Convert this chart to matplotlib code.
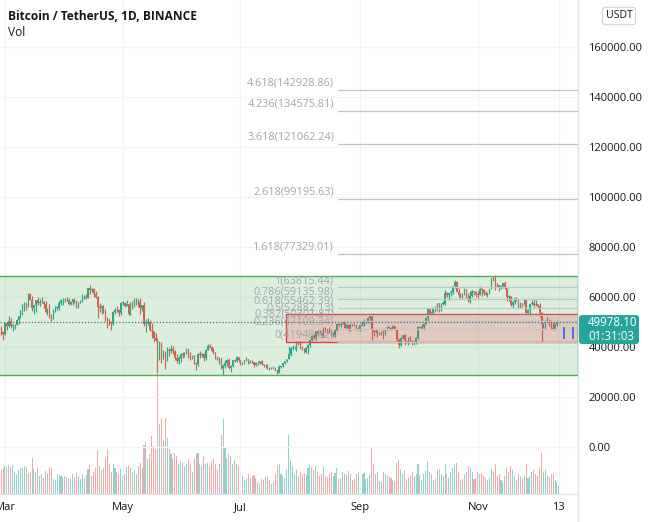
import numpy as np
import matplotlib
matplotlib.use('Agg')
import matplotlib.pyplot as plt
from matplotlib.patches import Rectangle, FancyBboxPatch
from matplotlib.lines import Line2D
import matplotlib.transforms as mtransforms

plt.rcParams['font.family'] = ['Open Sans', 'DejaVu Sans']

# day index: 0 = 1 Mar 2021, first candle is 26 Feb
first_day = -3
first_open_k = 47.0

# daily closes / highs / lows in thousands of USDT (26 Feb .. 13 Dec 2021)
close_k = [
    46.3, 46.2, 45.1,
    49.6, 48.4, 50.3, 48.4, 48.8, 48.9, 51.0, 52.4, 54.9, 55.9, 57.8, 57.2, 61.2, 59.0, 55.6, 56.9,
    58.9, 57.6, 58.0, 58.1, 57.4, 54.1, 54.3, 52.3, 51.3, 55.0, 55.8, 55.8, 57.6, 58.8, 58.8,
    58.7, 59.0, 57.1, 58.2, 59.1, 58.0, 56.0, 58.1, 58.1, 59.8, 60.0, 59.8, 63.6, 63.0, 63.2,
    61.4, 60.0, 56.2, 55.7, 56.5, 53.8, 51.7, 51.2, 50.1, 49.1, 54.0, 55.0, 54.8, 53.6, 57.7,
    57.8, 56.6, 57.2, 53.2, 57.4, 56.4, 57.3, 58.9, 58.2, 55.8, 56.7, 49.2, 49.7, 49.9, 46.8, 46.4,
    43.5, 42.9, 37.0, 40.6, 37.3, 37.5, 34.8, 38.8, 38.3, 39.2, 38.5, 35.7, 34.6, 35.7, 37.3,
    36.7, 37.6, 39.2, 36.9, 35.5, 35.8, 33.6, 33.4, 37.4, 36.7, 37.3, 35.6, 39.0, 40.5, 40.1,
    38.4, 38.1, 35.8, 35.5, 35.6, 31.6, 32.5, 33.7, 34.7, 31.6, 32.3, 34.7, 34.5, 35.9, 35.0,
    33.5, 33.8, 34.7, 35.3, 33.7, 34.2, 33.9, 32.9, 33.8, 33.5, 34.3, 33.1, 32.7, 32.8, 31.8, 31.4,
    31.5, 31.8, 30.8, 29.8, 32.1, 32.3, 33.6, 34.3, 35.4, 37.3, 39.5, 40.0, 40.0, 42.2, 41.5,
    39.8, 39.1, 38.2, 39.7, 40.9, 42.8, 44.6, 43.8, 46.3, 45.6, 45.5, 44.4, 47.8, 47.1, 47.0, 45.9,
    44.7, 44.7, 46.8, 49.3, 48.9, 49.3, 49.5, 47.7, 49.0, 46.9, 49.1, 48.9, 48.8, 47.0, 47.1,
    48.8, 49.3, 49.9, 49.9, 51.8, 52.7, 46.9, 46.1, 46.4, 44.9, 45.2, 46.0, 45.0, 47.1, 48.1,
    47.8, 47.3, 48.3, 47.3, 43.0, 40.7, 43.6, 44.9, 42.8, 42.7, 43.2, 42.2, 41.0, 41.5, 43.8,
    48.1, 47.6, 48.2, 49.2, 51.5, 55.3, 53.8, 54.0, 55.0, 54.7, 57.5, 56.0, 57.4, 57.4, 61.7, 60.9,
    61.5, 62.0, 64.3, 66.0, 62.2, 60.7, 61.3, 60.9, 63.1, 60.3, 58.5, 60.6, 62.3, 61.9, 61.3,
    61.0, 63.2, 62.9, 61.5, 61.0, 61.5, 63.3, 67.6, 66.9, 64.9, 64.8, 64.2, 64.4, 65.5, 63.6,
    60.1, 60.4, 56.9, 58.1, 59.7, 58.7, 56.3, 57.6, 57.2, 59.0, 53.7, 54.7, 57.3, 57.8, 57.0,
    57.2, 56.5, 53.6, 49.2, 49.4, 50.4, 50.6, 50.5, 47.5, 47.1, 49.4, 49.9, 49.9781,
]
high_k = [
    48.4, 48.4, 46.6,
    49.8, 50.2, 52.6, 51.8, 49.4, 49.2, 51.4, 52.4, 54.9, 57.4, 58.1, 58.0, 61.8, 61.7, 60.6, 56.9,
    58.9, 60.0, 59.4, 59.9, 58.6, 58.4, 55.8, 57.2, 53.2, 55.1, 56.6, 56.6, 58.4, 59.4, 59.8,
    59.5, 60.0, 59.8, 58.5, 59.3, 59.5, 58.7, 58.2, 58.9, 61.2, 60.7, 61.3, 63.7, 64.9, 63.8,
    63.6, 62.5, 60.4, 57.5, 57.0, 56.8, 55.4, 52.1, 51.2, 50.6, 54.4, 55.5, 56.4, 55.2, 58.0,
    58.5, 57.9, 58.9, 57.2, 57.9, 58.4, 59.5, 59.5, 59.3, 59.6, 56.9, 58.0, 51.4, 51.6, 50.7, 49.8,
    46.6, 45.8, 43.5, 42.5, 42.2, 38.9, 38.3, 39.9, 39.8, 40.9, 40.4, 38.9, 37.3, 36.5, 37.5,
    37.9, 38.2, 39.5, 39.3, 37.9, 36.8, 36.8, 34.1, 37.5, 38.4, 37.7, 37.5, 39.4, 41.1, 41.3,
    40.5, 39.6, 38.2, 36.5, 36.1, 35.8, 33.3, 34.9, 35.3, 35.5, 32.7, 34.7, 35.3, 36.6, 36.1,
    35.0, 33.9, 35.0, 35.9, 35.3, 35.0, 35.0, 33.9, 34.1, 34.3, 34.6, 34.7, 33.3, 33.1, 33.2, 32.2,
    31.9, 32.4, 31.9, 31.0, 32.9, 32.6, 33.6, 34.5, 35.4, 40.6, 40.0, 40.9, 40.6, 42.3, 42.4,
    42.6, 40.5, 39.8, 39.9, 41.4, 43.4, 44.7, 45.3, 46.4, 46.7, 46.8, 46.2, 48.1, 48.2, 47.4, 48.0,
    47.2, 46.0, 47.1, 49.4, 49.8, 49.5, 50.5, 49.9, 49.3, 49.4, 49.2, 49.3, 49.8, 48.9, 48.2,
    49.0, 50.4, 51.1, 50.6, 51.9, 52.8, 52.9, 47.4, 47.4, 47.0, 45.9, 46.4, 46.9, 47.3, 48.5,
    48.5, 48.2, 48.8, 48.4, 47.3, 43.6, 44.0, 44.9, 45.2, 42.9, 43.9, 44.4, 42.8, 42.6, 44.1,
    48.5, 48.3, 49.3, 49.5, 51.9, 55.8, 55.3, 56.1, 55.5, 56.6, 57.8, 57.7, 57.6, 58.5, 62.9, 62.0,
    61.7, 62.7, 64.5, 67.0, 66.6, 63.7, 61.7, 61.5, 63.7, 63.3, 61.5, 62.5, 62.9, 62.3, 62.4,
    62.4, 64.3, 63.5, 63.1, 62.6, 61.6, 63.3, 67.8, 68.5, 69.0, 65.6, 65.0, 64.9, 65.5, 66.4,
    63.6, 60.8, 60.4, 58.4, 59.8, 60.0, 59.3, 57.9, 57.8, 59.4, 59.1, 55.3, 57.4, 58.9, 59.2,
    59.0, 57.4, 57.6, 53.9, 49.7, 50.9, 51.9, 51.2, 50.8, 50.1, 49.5, 50.8, 50.2,
]
low_k = [
    44.1, 45.0, 43.0,
    45.0, 47.0, 48.1, 47.5, 46.3, 47.1, 48.9, 49.3, 51.8, 53.0, 54.3, 55.0, 56.1, 59.0, 54.6, 53.3,
    54.1, 57.0, 56.3, 57.8, 55.5, 53.7, 53.0, 51.7, 50.4, 51.3, 53.9, 54.7, 54.9, 57.0, 56.8,
    57.9, 58.5, 56.9, 57.0, 56.8, 57.7, 55.5, 55.7, 57.7, 57.9, 59.1, 59.4, 59.8, 61.3, 62.0,
    60.0, 59.6, 51.5, 54.2, 53.4, 53.6, 50.4, 47.5, 48.7, 47.0, 48.8, 53.3, 53.9, 52.3, 53.0,
    57.0, 56.0, 56.5, 53.0, 52.9, 55.2, 56.0, 56.9, 56.2, 53.4, 54.4, 48.6, 46.0, 48.8, 46.6, 43.8,
    42.1, 42.3, 30.0, 35.0, 33.5, 35.3, 31.1, 34.4, 36.4, 37.8, 37.2, 34.7, 33.6, 33.4, 34.2,
    35.7, 35.9, 37.2, 35.6, 34.8, 35.3, 33.4, 31.0, 32.4, 35.8, 35.9, 34.6, 34.8, 38.7, 39.5,
    38.1, 37.4, 35.1, 34.8, 33.3, 31.3, 28.8, 31.7, 32.4, 31.3, 30.2, 32.0, 33.9, 34.2, 34.0,
    32.7, 32.7, 33.4, 34.4, 33.1, 33.5, 33.7, 32.1, 32.3, 33.0, 33.3, 32.7, 32.2, 31.6, 31.1, 31.0,
    31.2, 31.1, 30.4, 29.3, 29.5, 31.7, 32.0, 33.4, 33.9, 35.2, 36.4, 38.8, 39.2, 38.3, 41.0,
    39.4, 38.7, 37.6, 37.5, 37.3, 39.9, 42.4, 43.3, 42.8, 44.7, 45.3, 43.8, 44.2, 45.9, 45.5, 45.7,
    44.4, 44.2, 43.9, 46.6, 48.3, 48.1, 49.1, 47.6, 47.1, 46.3, 46.4, 48.4, 48.3, 46.9, 46.7,
    46.5, 48.6, 48.4, 49.5, 49.5, 50.9, 42.8, 44.4, 45.5, 44.2, 44.8, 44.7, 43.4, 44.8, 46.7,
    47.1, 46.8, 47.1, 46.9, 42.5, 39.6, 40.6, 43.1, 40.7, 41.7, 40.8, 42.1, 40.9, 40.8, 41.4,
    43.3, 47.4, 47.1, 46.9, 49.1, 50.4, 53.4, 53.7, 53.7, 54.1, 54.4, 53.9, 54.3, 56.8, 56.9, 60.2,
    58.9, 60.4, 61.3, 63.5, 62.0, 60.0, 59.8, 59.5, 60.7, 59.8, 58.0, 57.8, 60.2, 60.7, 59.9,
    59.5, 60.8, 60.4, 60.7, 60.7, 60.1, 61.4, 63.3, 66.3, 62.8, 64.1, 62.3, 63.4, 63.6, 63.4,
    58.6, 58.4, 56.5, 55.6, 57.4, 58.5, 55.6, 55.8, 55.9, 56.7, 53.5, 53.7, 53.3, 56.7, 55.9,
    56.5, 55.8, 52.0, 42.0, 47.7, 47.1, 50.1, 48.6, 47.3, 46.9, 46.8, 48.6, 49.5,
]
# daily volume, thousands of BTC
volume_k = [
    62, 53, 57,
    64, 59, 64, 59, 64, 48, 44, 53, 57, 57, 62, 59, 46, 48, 81, 55, 48, 57, 40, 44, 35, 51, 46, 59, 57, 33, 31, 44, 42, 40, 37,
    40, 37, 35, 33, 44, 37, 46, 40, 33, 44, 35, 42, 55, 64, 40, 48, 57, 97, 62, 53, 57, 79, 99, 66, 48, 66, 57, 48, 44, 55,
    40, 44, 59, 64, 57, 48, 53, 44, 62, 70, 57, 110, 115, 77, 88, 130, 106, 99, 275, 156, 167, 121, 170, 125, 99, 88, 77, 92, 84, 66, 73,
    70, 62, 66, 77, 66, 48, 77, 88, 92, 66, 62, 84, 66, 70, 62, 73, 77, 66, 53, 66, 132, 167, 103, 79, 88, 84, 66, 75, 66, 62,
    48, 40, 31, 33, 44, 35, 40, 42, 35, 26, 24, 33, 31, 37, 40, 31, 22, 26, 44, 64, 66, 44, 40, 35, 53, 132, 75, 62, 44, 53, 40,
    48, 44, 46, 42, 57, 64, 59, 53, 62, 48, 40, 44, 59, 40, 37, 44, 48, 40, 46, 57, 33, 35, 48, 44, 42, 51, 44, 31, 33, 44, 48,
    48, 44, 46, 33, 35, 42, 103, 66, 44, 48, 29, 26, 48, 44, 40, 37, 35, 31, 29, 70, 75, 55, 44, 53, 31, 35, 40, 48, 40, 44,
    66, 42, 31, 44, 51, 73, 48, 44, 31, 35, 53, 55, 44, 40, 66, 44, 35, 48, 57, 66, 70, 48, 31, 33, 44, 48, 62, 57, 48, 33, 35,
    48, 44, 46, 40, 35, 31, 35, 55, 48, 66, 40, 44, 31, 26, 40, 57, 48, 62, 53, 40, 31, 44, 40, 35, 40, 66, 35, 40, 48, 53,
    44, 40, 57, 92, 48, 53, 40, 37, 44, 44, 31, 26, 18,
]

last_price = 49978.10
last_time = '01:31:03'

month_ticks = [0, 61, 122, 184, 245, 287]
month_labels = ['Mar', 'May', 'Jul', 'Sep', 'Nov', '13']
price_ticks = [0, 20000, 40000, 60000, 80000, 100000, 120000, 140000, 160000]

fib_ratios = [0, 0.236, 0.382, 0.5, 0.618, 0.786, 1, 1.618, 2.618, 3.618, 4.236, 4.618]
fib_prices = [41948.82, 47109.34, 50301.87, 52882.13, 55462.39, 59135.98, 63815.44,
              77329.01, 99195.63, 121062.24, 134575.81, 142928.86]
fib_start_day = 172.5

# drawings: range boxes and the two blue markers on the right
green_box = (-10, 28800, 68500)      # start day, low, high
red_box = (145.6, 41950, 53100)
blue_marks = [(289.6, 43300, 48000), (294.3, 43300, 48000)]

UP = '#26a69a'
DOWN = '#ef5350'
TXT = '#131722'
GRID = '#f0f3fa'
SEP = '#e0e3eb'

close = np.array(close_k) * 1000
high = np.array(high_k) * 1000
low = np.array(low_k) * 1000
opn = np.concatenate([[first_open_k * 1000], close[:-1]])
days = np.arange(len(close)) + first_day
vol = np.array(volume_k)
up = close >= opn

W, H = 650, 522
fig = plt.figure(figsize=(W / 100, H / 100), dpi=100)
rect = [0, 28 / H, 578 / W, 494 / H]
ax = fig.add_axes(rect)
axv = ax.twinx()
ax.set_zorder(2)
axv.set_zorder(1)
ax.patch.set_visible(False)

xmin, xmax = -2.6, 296.9
ax.set_xlim(xmin, xmax)
ax.set_ylim(-18800, 178800)
axv.set_ylim(0, 1098)

# volume
axv.bar(days[up], vol[up], width=0.55, color=UP, alpha=0.5, linewidth=0)
axv.bar(days[~up], vol[~up], width=0.55, color=DOWN, alpha=0.5, linewidth=0)
axv.set_yticks([])
for s in axv.spines.values():
    s.set_visible(False)

# grid
for v in price_ticks:
    ax.axhline(v, color=GRID, lw=0.9, zorder=0)
for d in month_ticks:
    ax.axvline(d, color=GRID, lw=0.9, zorder=0)

# candles
cols = np.where(up, UP, DOWN)
ax.vlines(days, low, high, colors=cols, lw=0.85, zorder=3)
body_lo = np.minimum(opn, close)
body_h = np.maximum(np.abs(close - opn), 150)
ax.bar(days, body_h, bottom=body_lo, width=0.65, color=cols, linewidth=0, zorder=3)

# range boxes
gx, glo, ghi = green_box
ax.add_patch(Rectangle((gx, glo), xmax - gx, ghi - glo, facecolor='#4caf50', alpha=0.2,
                       edgecolor='none', zorder=4))
ax.add_patch(Rectangle((gx, glo), xmax - gx, ghi - glo, facecolor='none',
                       edgecolor='#4caf50', lw=1.0, zorder=4))
rx, rlo, rhi = red_box
ax.add_patch(Rectangle((rx, rlo), xmax - rx, rhi - rlo, facecolor='#f23645', alpha=0.2,
                       edgecolor='none', zorder=5))
ax.add_patch(Rectangle((rx, rlo), xmax - rx, rhi - rlo, facecolor='none',
                       edgecolor='#f23645', lw=1.0, zorder=5))

# fib levels
for r, p in zip(fib_ratios, fib_prices):
    ax.plot([fib_start_day, xmax], [p, p], color='#c3c4c8', lw=0.9, zorder=6)
    ax.annotate(f'{r:g}({p:.2f})', (fib_start_day - 2, p), xytext=(0, 1), textcoords='offset points',
                ha='right', va='bottom', fontsize=7.8, color='#a3a6af', zorder=6)

for d, lo, hi in blue_marks:
    ax.add_patch(Rectangle((d - 0.7, lo), 1.4, hi - lo, facecolor='#2962ff', edgecolor='none',
                           alpha=0.85, zorder=7))

# price line
ax.axhline(last_price, color='#5a6e6c', lw=0.9, ls=(0, (1, 1.5)), zorder=6)

# axes styling
ax.yaxis.tick_right()
ax.set_yticks(price_ticks)
ax.set_yticklabels([f'{v:.2f}' for v in price_ticks])
ax.set_xticks(month_ticks)
ax.set_xticklabels(month_labels)
ax.tick_params(axis='y', length=0, pad=7.5, labelsize=8, labelcolor=TXT)
ax.tick_params(axis='x', length=0, pad=5.5, labelsize=8, labelcolor=TXT)
for s in ['top', 'left', 'right', 'bottom']:
    ax.spines[s].set_visible(False)

fig.add_artist(Line2D([0, 578 / W], [28 / H, 28 / H], color=SEP, lw=1.0, transform=fig.transFigure))
fig.add_artist(Line2D([578 / W, 578 / W], [0, 1], color=SEP, lw=1.0, transform=fig.transFigure))

# title
fig.text(8 / W, 1 - 16 / H, 'Bitcoin / TetherUS, 1D, BINANCE', fontsize=8.6, fontweight='bold',
         color=TXT, va='center', ha='left')
fig.text(8 / W, 1 - 33 / H, 'Vol', fontsize=8.6, color=TXT, va='center', ha='left')
fig.text(619 / W, 1 - 16 / H, 'USDT', fontsize=7.6, color=TXT, va='center', ha='center',
         bbox=dict(boxstyle='round,pad=0.3,rounding_size=0.3', fc='white', ec='#d1d4dc', lw=0.8))

# last price label
py = ax.transData.transform((0, last_price))[1]
lab = FancyBboxPatch((579, py - 22), 60, 29, boxstyle='round,pad=0,rounding_size=3',
                     fc=UP, ec='none', transform=mtransforms.IdentityTransform(), zorder=10)
fig.patches.append(lab)
fig.text(588 / W, py / H, f'{last_price:.2f}', fontsize=8.3, color='white', va='center', ha='left', zorder=11)
fig.text(588 / W, (py - 14) / H, last_time, fontsize=8.3, color='white', va='center', ha='left', zorder=11)

fig.savefig('out.png', dpi=100)
